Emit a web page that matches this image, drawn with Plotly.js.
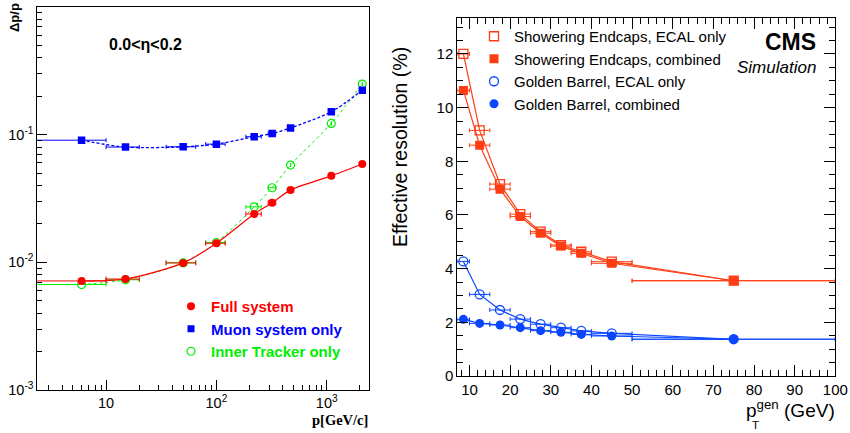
<!DOCTYPE html>
<html>
<head>
<meta charset="utf-8">
<script src="https://cdn.plot.ly/plotly-3.0.1.min.js"></script>
<style>html,body{margin:0;padding:0;background:#fff;}#chart{width:850px;height:433px;}</style>
</head>
<body>
<div id="chart"></div>
<script>
// ---------- Left panel: momentum resolution vs p (0.0<eta<0.2) ----------
const pMomentum   = [6, 15, 50, 100, 220, 320, 470, 1100, 2100];
const pErr        = [4, 5, 15, 20, 35, 25, 0, 0, 0];
const fullSystem  = [0.00715, 0.0074, 0.0099, 0.0141, 0.0239, 0.0293, 0.0368, 0.0476, 0.0589];
const muonOnly    = [0.0905, 0.0800, 0.0803, 0.0843, 0.0964, 0.102, 0.113, 0.151, 0.223];
const innerOnly   = [0.0067, 0.0073, 0.0099, 0.0143, 0.0272, 0.0384, 0.0578, 0.1225, 0.249];
const leftXTicks  = [10, 100, 1000];
const leftXLabels = ['10', '10<sup>2</sup>', '10<sup>3</sup>'];
const leftYTicks  = [0.001, 0.01, 0.1, 1];
const leftYLabels = ['10<sup>-3</sup>', '10<sup>-2</sup>', '10<sup>-1</sup>', '1'];

// ---------- Right panel: effective resolution vs pT gen ----------
const ptGen         = [8.5, 12.5, 17.5, 22.5, 27.5, 32.5, 37.5, 45, 75];
const ptHalfWidth   = [1.5, 2.5, 2.5, 2.5, 2.5, 2.5, 2.5, 5, 25];
const endcapEcal    = [12.0, 9.15, 7.15, 6.03, 5.38, 4.88, 4.63, 4.26, 3.55];
const endcapComb    = [10.64, 8.60, 6.96, 5.94, 5.32, 4.84, 4.57, 4.20, 3.55];
const barrelEcal    = [4.27, 3.04, 2.46, 2.12, 1.93, 1.80, 1.68, 1.59, 1.37];
const barrelComb    = [2.11, 1.96, 1.90, 1.80, 1.69, 1.63, 1.55, 1.49, 1.37];

const RED = '#ff0000', BLUE = '#0000ff', GREEN = '#00ee00';
const ORG = '#ff3d14', AZ = '#0a46ff';

function errX(arr, color, w){ return {type:'data', array:arr, symmetric:true, color:color, thickness:1, width:w}; }

const traces = [];
// left data traces
traces.push({x:pMomentum, y:innerOnly, xaxis:'x', yaxis:'y', mode:'lines+markers', showlegend:false,
  line:{color:GREEN, width:1, dash:'dot', shape:'spline', smoothing:0.8},
  marker:{symbol:'circle-open', size:8, color:GREEN, line:{width:1.2, color:GREEN}},
  error_x:errX(pErr, GREEN, 2)});
traces.push({x:pMomentum, y:muonOnly, xaxis:'x', yaxis:'y', mode:'lines+markers', showlegend:false,
  line:{color:BLUE, width:1.3, dash:'3px,2px', shape:'spline', smoothing:0.8},
  marker:{symbol:'square', size:7.5, color:BLUE},
  error_x:errX(pErr, BLUE, 2)});
traces.push({x:pMomentum, y:fullSystem, xaxis:'x', yaxis:'y', mode:'lines+markers', showlegend:false,
  line:{color:RED, width:1.2, shape:'spline', smoothing:0.8},
  marker:{symbol:'circle', size:8, color:RED},
  error_x:errX(pErr, RED, 2.5)});
// left legend entries (marker only)
traces.push({x:[null], y:[null], xaxis:'x', yaxis:'y', mode:'markers', legend:'legend',
  name:'<b><span style="color:'+RED+'">Full system</span></b>', marker:{symbol:'circle', size:8, color:RED}});
traces.push({x:[null], y:[null], xaxis:'x', yaxis:'y', mode:'markers', legend:'legend',
  name:'<b><span style="color:'+BLUE+'">Muon system only</span></b>', marker:{symbol:'square', size:7, color:BLUE}});
traces.push({x:[null], y:[null], xaxis:'x', yaxis:'y', mode:'markers', legend:'legend',
  name:'<b><span style="color:'+GREEN+'">Inner Tracker only</span></b>', marker:{symbol:'circle-open', size:8, color:GREEN, line:{width:1.2, color:GREEN}}});

// right data traces
traces.push({x:ptGen, y:barrelEcal, xaxis:'x2', yaxis:'y2', mode:'lines+markers', showlegend:false,
  line:{color:AZ, width:1.2}, marker:{symbol:'circle-open', size:9, color:AZ, line:{width:1.3, color:AZ}},
  error_x:errX(ptHalfWidth, AZ, 2)});
traces.push({x:ptGen, y:barrelComb, xaxis:'x2', yaxis:'y2', mode:'lines+markers', showlegend:false,
  line:{color:AZ, width:1.2}, marker:{symbol:'circle', size:9, color:AZ},
  error_x:errX(ptHalfWidth, AZ, 2)});
traces.push({x:ptGen, y:endcapEcal, xaxis:'x2', yaxis:'y2', mode:'lines+markers', showlegend:false,
  line:{color:ORG, width:1.2}, marker:{symbol:'square-open', size:9, color:ORG, line:{width:1.3, color:ORG}},
  error_x:errX(ptHalfWidth, ORG, 2)});
traces.push({x:ptGen, y:endcapComb, xaxis:'x2', yaxis:'y2', mode:'lines+markers', showlegend:false,
  line:{color:ORG, width:1.2}, marker:{symbol:'square', size:9, color:ORG},
  error_x:errX(ptHalfWidth, ORG, 2)});
// right legend entries
traces.push({x:[null], y:[null], xaxis:'x2', yaxis:'y2', mode:'markers', legend:'legend2',
  name:'Showering Endcaps, ECAL only', marker:{symbol:'square-open', size:9, color:ORG, line:{width:1.3, color:ORG}}});
traces.push({x:[null], y:[null], xaxis:'x2', yaxis:'y2', mode:'markers', legend:'legend2',
  name:'Showering Endcaps, combined', marker:{symbol:'square', size:9, color:ORG}});
traces.push({x:[null], y:[null], xaxis:'x2', yaxis:'y2', mode:'markers', legend:'legend2',
  name:'Golden Barrel, ECAL only', marker:{symbol:'circle-open', size:9, color:AZ, line:{width:1.3, color:AZ}}});
traces.push({x:[null], y:[null], xaxis:'x2', yaxis:'y2', mode:'markers', legend:'legend2',
  name:'Golden Barrel, combined', marker:{symbol:'circle', size:9, color:AZ}});

const W = 850, H = 433;
const px = v => v / W, py = v => 1 - v / H;
const FONT = 'Liberation Sans, Arial, Helvetica, sans-serif';

const axBase = {showgrid:false, zeroline:false, showline:true, linecolor:'black', linewidth:1,
  ticks:'inside', tickcolor:'black', tickwidth:1, tickfont:{family:FONT, size:14.5, color:'black'}};

const layout = {
  width:W, height:H, margin:{l:0, r:0, t:0, b:0},
  paper_bgcolor:'white', plot_bgcolor:'white',
  font:{family:FONT, color:'black'},
  xaxis: Object.assign({}, axBase, {type:'log', domain:[px(37.3), px(369)], range:[0.377, 3.383],
    tickmode:'array', tickvals:leftXTicks, ticktext:leftXLabels, ticklen:10, mirror:true,
    minor:{ticks:'inside', ticklen:5, dtick:'D1', tickcolor:'black', showgrid:false}, anchor:'y'}),
  yaxis: Object.assign({}, axBase, {type:'log', domain:[py(390), py(7)], range:[-3, 0],
    tickmode:'array', tickvals:leftYTicks, ticktext:leftYLabels, ticklen:10, mirror:true,
    minor:{ticks:'inside', ticklen:5, dtick:'D1', tickcolor:'black', showgrid:false}, anchor:'x'}),
  xaxis2: Object.assign({}, axBase, {domain:[px(457.3), px(835.3)], range:[7, 100], tick0:0, dtick:10,
    ticklen:11, mirror:'allticks', tickfont:{family:FONT, size:15, color:'black'},
    minor:{ticks:'inside', ticklen:6, dtick:2, tick0:0, tickcolor:'black', showgrid:false}, anchor:'y2'}),
  yaxis2: Object.assign({}, axBase, {domain:[py(376), py(17.7)], range:[0, 13.35], tick0:0, dtick:2,
    ticklen:11, mirror:'allticks', tickfont:{family:FONT, size:15, color:'black'},
    minor:{ticks:'inside', ticklen:6, dtick:0.5, tick0:0, tickcolor:'black', showgrid:false}, anchor:'x2'}),
  legend: {x:px(171), y:py(290), xanchor:'left', yanchor:'top', bgcolor:'rgba(0,0,0,0)',
    font:{family:FONT, size:15}, itemwidth:30, tracegroupgap:0},
  legend2: {x:px(474), y:py(20), xanchor:'left', yanchor:'top', bgcolor:'rgba(0,0,0,0)',
    font:{family:FONT, size:15, color:'black'}, itemwidth:30, tracegroupgap:0},
  annotations: [
    {text:'<b>Δp/p</b>', xref:'paper', yref:'paper', x:px(15), y:py(18), textangle:-90,
      xanchor:'center', yanchor:'middle', showarrow:false, font:{family:FONT, size:13}},
    {text:'<b>0.0&lt;η&lt;0.2</b>', xref:'paper', yref:'paper', x:px(145), y:py(45),
      xanchor:'center', yanchor:'middle', showarrow:false, font:{family:FONT, size:16}},
    {text:'<b>p[GeV/c]</b>', xref:'paper', yref:'paper', x:px(370), y:py(420),
      xanchor:'right', yanchor:'middle', showarrow:false, font:{family:'Liberation Serif, Times New Roman, serif', size:14.5}},
    {text:'<b>CMS</b>', xref:'paper', yref:'paper', x:px(818), y:py(42),
      xanchor:'right', yanchor:'middle', showarrow:false, font:{family:FONT, size:23}},
    {text:'<i>Simulation</i>', xref:'paper', yref:'paper', x:px(818), y:py(67),
      xanchor:'right', yanchor:'middle', showarrow:false, font:{family:FONT, size:17}},
    {text:'Effective resolution (%)', xref:'paper', yref:'paper', x:px(400), y:py(147), textangle:-90,
      xanchor:'center', yanchor:'middle', showarrow:false, font:{family:FONT, size:19.5}},
    {text:'p<sup>gen</sup> (GeV)', xref:'paper', yref:'paper', x:px(836), y:py(409), borderpad:0,
      xanchor:'right', yanchor:'middle', showarrow:false, font:{family:FONT, size:19}},
    {text:'T', xref:'paper', yref:'paper', x:px(755), y:py(425), borderpad:0,
      xanchor:'center', yanchor:'middle', showarrow:false, font:{family:FONT, size:11.5}}
  ]
};

Plotly.newPlot('chart', traces, layout, {staticPlot:true, displayModeBar:false});
</script>
</body>
</html>
